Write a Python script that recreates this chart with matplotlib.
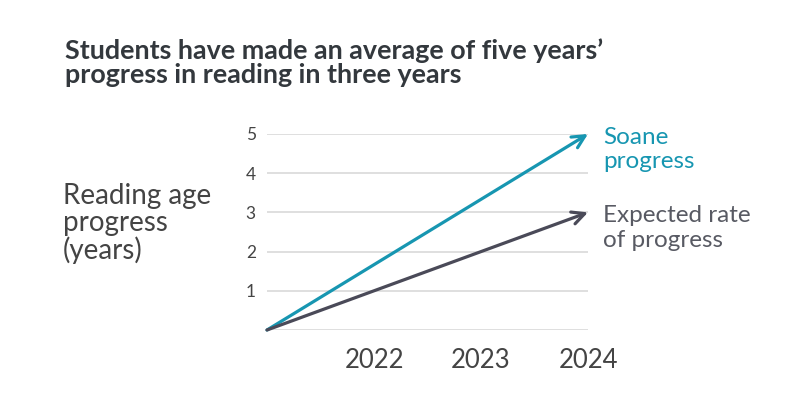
import matplotlib
matplotlib.use("Agg")
import matplotlib.pyplot as plt

# Data
years = [2021, 2024]
soane = [0, 5]
expected = [0, 3]
xtick_years = [2022, 2023, 2024]
yticks = [1, 2, 3, 4, 5]

title = "Students have made an average of five years\u2019\nprogress in reading in three years"
ylabel = "Reading age\nprogress\n(years)"
soane_label = "Soane\nprogress"
expected_label = "Expected rate\nof progress"

TEAL = "#1796b1"
DARK = "#4a4a58"
TEXT = "#444444"
LABEL_GREY = "#585a63"
GRID = "#dcdcdc"

plt.rcParams['font.family'] = ['Lato', 'DejaVu Sans']

fig = plt.figure(figsize=(8.06, 3.99), dpi=100)
ax = fig.add_axes([267/806, 1-330/399, (588-267)/806, (330-134)/399])
ax.set_xlim(2021, 2024)
ax.set_ylim(0, 5)

for s in ax.spines.values():
    s.set_visible(False)
ax.set_yticks(yticks)
ax.set_xticks(xtick_years)
ax.set_xticklabels([str(y) for y in xtick_years])
ax.grid(axis='y', color=GRID, linewidth=1.3)
ax.axhline(0, color=GRID, linewidth=1.3)
ax.set_axisbelow(True)
ax.tick_params(axis='y', length=0, pad=8, labelsize=12.5, labelcolor=TEXT)
ax.tick_params(axis='x', length=0, pad=13, labelsize=18.5, labelcolor=TEXT)

for vals, col in [(soane, TEAL), (expected, DARK)]:
    ax.annotate("", xy=(years[1], vals[1]), xytext=(years[0], vals[0]),
                xycoords='data', textcoords='data',
                arrowprops=dict(arrowstyle='->,head_length=0.9,head_width=0.45',
                                color=col, lw=2.3, shrinkA=0, shrinkB=0),
                annotation_clip=False)

px = 72 / 100  # points per pixel
ax.annotate(soane_label, xy=(years[1], soane[1]), xycoords='data',
            xytext=(15 * px, 7 * px), textcoords='offset points',
            color=TEAL, fontsize=17.5, va='top', ha='left', linespacing=1.2,
            annotation_clip=False)
ax.annotate(expected_label, xy=(years[1], expected[1]), xycoords='data',
            xytext=(15 * px, 7 * px), textcoords='offset points',
            color=LABEL_GREY, fontsize=17.5, va='top', ha='left', linespacing=1.2,
            annotation_clip=False)

fig.text(65/806, 1-38/399, title, fontsize=19.4, fontweight='bold', color="#33383d",
         va='top', ha='left', linespacing=1.02)
fig.text(63/806, 1-183/399, ylabel, fontsize=20, color=TEXT, va='top', ha='left',
         linespacing=1.04)

fig.savefig("out.png", dpi=100)
